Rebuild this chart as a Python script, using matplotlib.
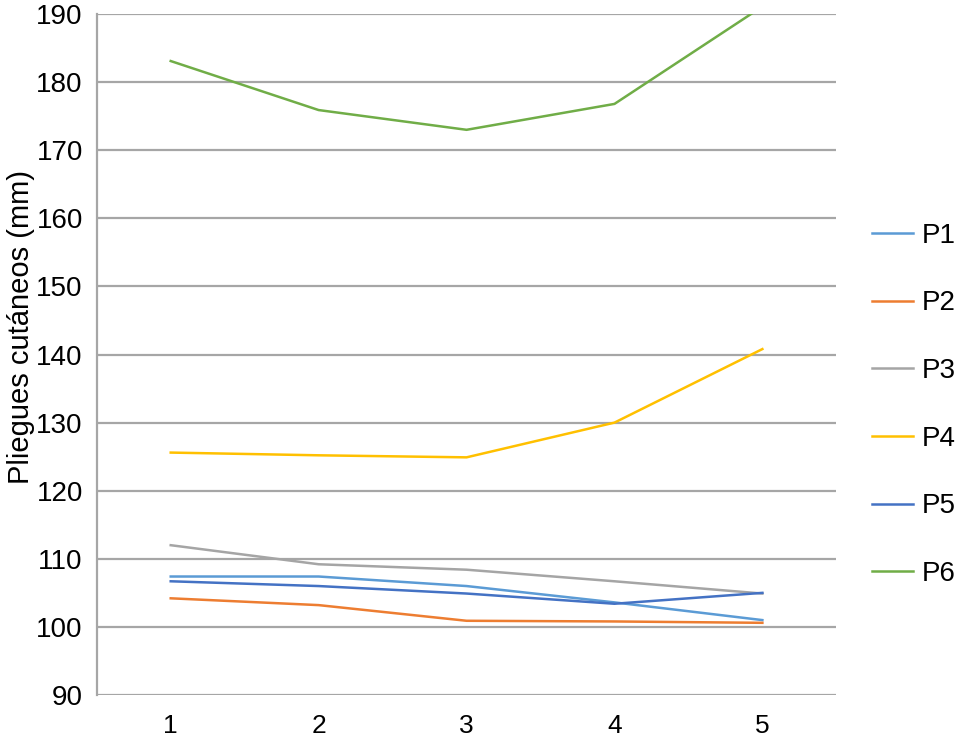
import matplotlib
matplotlib.use("Agg")
import matplotlib.pyplot as plt

plt.rcParams['font.family'] = ['Liberation Sans', 'DejaVu Sans']

# Datos
sesiones = [1, 2, 3, 4, 5]
p1 = [107.4, 107.4, 106.0, 103.6, 101.0]
p2 = [104.2, 103.2, 100.9, 100.8, 100.6]
p3 = [112.0, 109.2, 108.4, 106.7, 104.9]
p4 = [125.6, 125.2, 124.9, 130.0, 140.8]
p5 = [106.7, 106.0, 104.9, 103.4, 105.0]
p6 = [183.1, 175.9, 173.0, 176.8, 191.1]
nombres = ['P1', 'P2', 'P3', 'P4', 'P5', 'P6']
colores = ['#5B9BD5', '#ED7D31', '#A5A5A5', '#FFC000', '#4472C4', '#70AD47']
y_ticks = list(range(90, 191, 10))

fig = plt.figure(figsize=(9.58, 7.43), dpi=100)
ax = fig.add_axes([0.101, 0.0646, 0.772, 0.9165])

for serie, nombre, color in zip([p1, p2, p3, p4, p5, p6], nombres, colores):
    ax.plot(sesiones, serie, color=color, linewidth=1.8, label=nombre)

ax.set_xlim(0.5, 5.5)
ax.set_ylim(90, 190)
ax.set_yticks(y_ticks)
ax.set_xticks(sesiones)
ax.grid(axis='y', color='#A6A6A6', linewidth=1.6)
ax.set_axisbelow(True)
for s in ['top', 'right', 'bottom']:
    ax.spines[s].set_visible(False)
ax.spines['left'].set_color('#A6A6A6')
ax.spines['left'].set_linewidth(1.6)
ax.tick_params(axis='both', length=0)
ax.tick_params(axis='y', pad=10, labelsize=20)
ax.tick_params(axis='x', pad=14, labelsize=19)

ax.set_ylabel('Pliegues cutáneos (mm)', fontsize=21)
ax.yaxis.set_label_coords(-0.084, 0.54)

fig.legend(loc='center left', bbox_to_anchor=(0.910, 0.455), frameon=False,
           fontsize=20, labelspacing=1.5, handlelength=1.47, handletextpad=0.32,
           borderpad=0, borderaxespad=0)

fig.savefig('out.png', dpi=100)
